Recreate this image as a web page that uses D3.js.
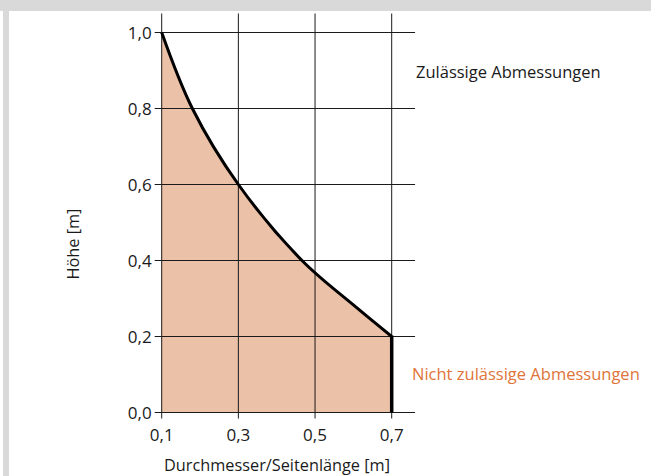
<!DOCTYPE html>
<html>
<head>
<meta charset="utf-8">
<script src="https://cdn.jsdelivr.net/npm/d3@7"></script>
<style>
  html, body { margin: 0; padding: 0; background: #fff; }
  svg { display: block; }
  text { font-family: "Open Sans", "Noto Sans", sans-serif; }
</style>
</head>
<body>
<svg id="chart" width="651" height="476"></svg>
<script>
// Data
const diameters = [0.1, 0.18, 0.3, 0.466, 0.6, 0.7];
const heights   = [1.0, 0.8, 0.6, 0.4, 0.283, 0.2];
const xTicks = [0.1, 0.3, 0.5, 0.7];
const yTicks = [0.0, 0.2, 0.4, 0.6, 0.8, 1.0];
const xTitle = "Durchmesser/Seitenlänge [m]";
const yTitle = "Höhe [m]";
const labelAllowed = "Zulässige Abmessungen";
const labelNotAllowed = "Nicht zulässige Abmessungen";

const svg = d3.select("#chart");
const W = 651, H = 476;

// frame
svg.append("rect").attr("x", 0).attr("y", 0).attr("width", W).attr("height", 11).attr("fill", "#d9d9d9");
svg.append("rect").attr("x", 3).attr("y", 0).attr("width", 6).attr("height", H).attr("fill", "#d9d9d9");

const x = d3.scaleLinear().domain([0.1, 0.7]).range([161.7, 391.7]);
const y = d3.scaleLinear().domain([0, 1]).range([412.5, 32.5]);

const fmt = d => d3.format(".1f")(d).replace(".", ",");

const pts = diameters.map((d, i) => [d, heights[i]]);
const curve = d3.curveCatmullRom.alpha(0.5);

// filled area
const area = d3.area()
  .x(d => x(d[0]))
  .y0(y(0))
  .y1(d => y(d[1]))
  .curve(curve);
svg.append("path").datum(pts).attr("d", area).attr("fill", "#ebc1a7");

// grid lines
const gridColor = "#1a1a1a";
svg.append("g").selectAll("line").data(xTicks).join("line")
  .attr("x1", d => x(d)).attr("x2", d => x(d))
  .attr("y1", y(1.05)).attr("y2", y(0) + 6)
  .attr("stroke", gridColor).attr("stroke-width", 1);
svg.append("g").selectAll("line").data(yTicks).join("line")
  .attr("x1", x(0.1) - 7).attr("x2", x(0.761))
  .attr("y1", d => y(d)).attr("y2", d => y(d))
  .attr("stroke", gridColor).attr("stroke-width", 1);

// curve
const line = d3.line().x(d => x(d[0])).y(d => y(d[1])).curve(curve);
svg.append("path").datum(pts).attr("d", line)
  .attr("fill", "none").attr("stroke", "#000").attr("stroke-width", 3);
// vertical limit at end
const last = pts[pts.length - 1];
svg.append("line")
  .attr("x1", x(last[0])).attr("x2", x(last[0]))
  .attr("y1", y(last[1]) - 1).attr("y2", y(0))
  .attr("stroke", "#000").attr("stroke-width", 3.5);

// tick labels
svg.append("g").selectAll("text").data(yTicks).join("text")
  .attr("x", x(0.1) - 10).attr("y", d => y(d))
  .attr("dy", "0.36em").attr("text-anchor", "end")
  .attr("font-size", 17).attr("fill", "#1a1a1a")
  .text(fmt);
svg.append("g").selectAll("text").data(xTicks).join("text")
  .attr("x", d => x(d)).attr("y", 441)
  .attr("text-anchor", "middle")
  .attr("font-size", 17).attr("fill", "#1a1a1a")
  .text(fmt);

// axis titles
svg.append("text").attr("x", 277).attr("y", 471)
  .attr("text-anchor", "middle").attr("font-size", 16.3).attr("fill", "#1a1a1a")
  .text(xTitle);
svg.append("text")
  .attr("transform", "translate(79,244) rotate(-90)")
  .attr("text-anchor", "middle").attr("font-size", 16.3).attr("fill", "#1a1a1a")
  .text(yTitle);

// annotations
svg.append("text").attr("x", 416).attr("y", 78)
  .attr("font-size", 16.5).attr("fill", "#1a1a1a").text(labelAllowed);
svg.append("text").attr("x", 412).attr("y", 380)
  .attr("font-size", 16.5).attr("fill", "#e0743a").text(labelNotAllowed);
</script>
</body>
</html>
